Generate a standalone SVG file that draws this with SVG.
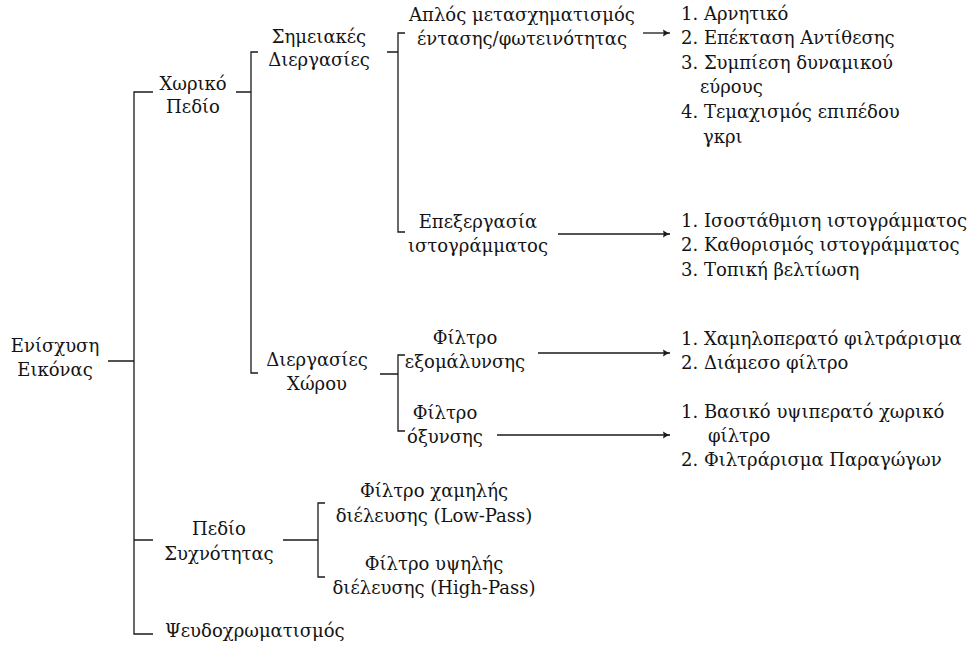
<svg xmlns="http://www.w3.org/2000/svg" width="969" height="648" viewBox="0 0 969 648" font-family="DejaVu Serif, serif" font-size="18">
  <style>
    text { fill: #141414; }
    .c { text-anchor: middle; }
    .edge { fill: none; stroke: #1a1a1a; stroke-width: 1.3; }
    .arrow { fill: none; stroke: #1a1a1a; stroke-width: 1.3; marker-end: url(#head); }
  </style>
  <defs>
    <marker id="head" viewBox="-8 -4 9 8" refX="0" refY="0" markerWidth="9" markerHeight="8" markerUnits="userSpaceOnUse" orient="auto">
      <path d="M -7 -3.5 Q -3 -0.8 0 0 Q -3 0.8 -7 3.5 Q -5.5 0 -7 -3.5 Z" fill="#1a1a1a"/>
    </marker>
  </defs>
  <rect width="969" height="648" fill="#ffffff"/>

  <!-- tree edges -->
  <g id="connectors">
    <!-- root -->
    <path class="edge" d="M108 361 H134 M153 92 H134 V634 H153 M134 540 H153"/>
    <!-- spatial domain -->
    <path class="edge" d="M236 92 H251 M258 52 H251 V373 H258"/>
    <!-- point processing -->
    <path class="edge" d="M387 52 H398 M405 33 H398 V232 H405"/>
    <!-- neighbourhood processing -->
    <path class="edge" d="M380 374 H398 M405 355 H398 V431 H405"/>
    <!-- frequency domain -->
    <path class="edge" d="M283 540 H318 M325 503 H318 V577 H325"/>
    <!-- arrows to technique lists -->
    <path class="arrow" d="M643 33 H670"/>
    <path class="arrow" d="M558 234 H670"/>
    <path class="arrow" d="M538 353 H670"/>
    <path class="arrow" d="M497 435 H670"/>
  </g>

  <g id="root">
    <text class="c" x="55" y="352">Ενίσχυση</text>
    <text class="c" x="55" y="376">Εικόνας</text>
  </g>

  <g id="spatial">
    <text class="c" x="193" y="90">Χωρικό</text>
    <text class="c" x="193" y="113">Πεδίο</text>
  </g>

  <g id="point">
    <text class="c" x="319" y="43">Σημειακές</text>
    <text class="c" x="319" y="66">Διεργασίες</text>
  </g>

  <g id="intensity">
    <text class="c" x="522" y="21">Απλός μετασχηματισμός</text>
    <text class="c" x="522" y="45">έντασης/φωτεινότητας</text>
  </g>

  <g id="intensity-list">
    <text x="681" y="20">1. Αρνητικό</text>
    <text x="681" y="44">2. Επέκταση Αντίθεσης</text>
    <text x="681" y="69">3. Συμπίεση δυναμικού</text>
    <text x="700" y="93">εύρους</text>
    <text x="681" y="118">4. Τεμαχισμός επιπέδου</text>
    <text x="703" y="143">γκρι</text>
  </g>

  <g id="histogram">
    <text class="c" x="478" y="228">Επεξεργασία</text>
    <text class="c" x="478" y="252">ιστογράμματος</text>
  </g>

  <g id="histogram-list">
    <text x="681" y="227">1. Ισοστάθμιση ιστογράμματος</text>
    <text x="681" y="251">2. Καθορισμός ιστογράμματος</text>
    <text x="681" y="276">3. Τοπική βελτίωση</text>
  </g>

  <g id="neighbourhood">
    <text class="c" x="317" y="366">Διεργασίες</text>
    <text class="c" x="317" y="390">Χώρου</text>
  </g>

  <g id="smoothing">
    <text class="c" x="465" y="344">Φίλτρο</text>
    <text class="c" x="465" y="368">εξομάλυνσης</text>
  </g>

  <g id="smoothing-list">
    <text x="681" y="345">1. Χαμηλοπερατό φιλτράρισμα</text>
    <text x="681" y="369">2. Διάμεσο φίλτρο</text>
  </g>

  <g id="sharpening">
    <text class="c" x="445" y="419">Φίλτρο</text>
    <text class="c" x="445" y="443">όξυνσης</text>
  </g>

  <g id="sharpening-list">
    <text x="681" y="418">1. Βασικό υψιπερατό χωρικό</text>
    <text x="708" y="442">φίλτρο</text>
    <text x="681" y="466">2. Φιλτράρισμα Παραγώγων</text>
  </g>

  <g id="frequency">
    <text class="c" x="219" y="535">Πεδίο</text>
    <text class="c" x="219" y="560">Συχνότητας</text>
  </g>

  <g id="lowpass">
    <text class="c" x="434" y="497">Φίλτρο χαμηλής</text>
    <text class="c" x="434" y="522">διέλευσης (Low-Pass)</text>
  </g>

  <g id="highpass">
    <text class="c" x="434" y="570">Φίλτρο υψηλής</text>
    <text class="c" x="434" y="594">διέλευσης (High-Pass)</text>
  </g>

  <g id="pseudocolor">
    <text x="165" y="637">Ψευδοχρωματισμός</text>
  </g>
</svg>
